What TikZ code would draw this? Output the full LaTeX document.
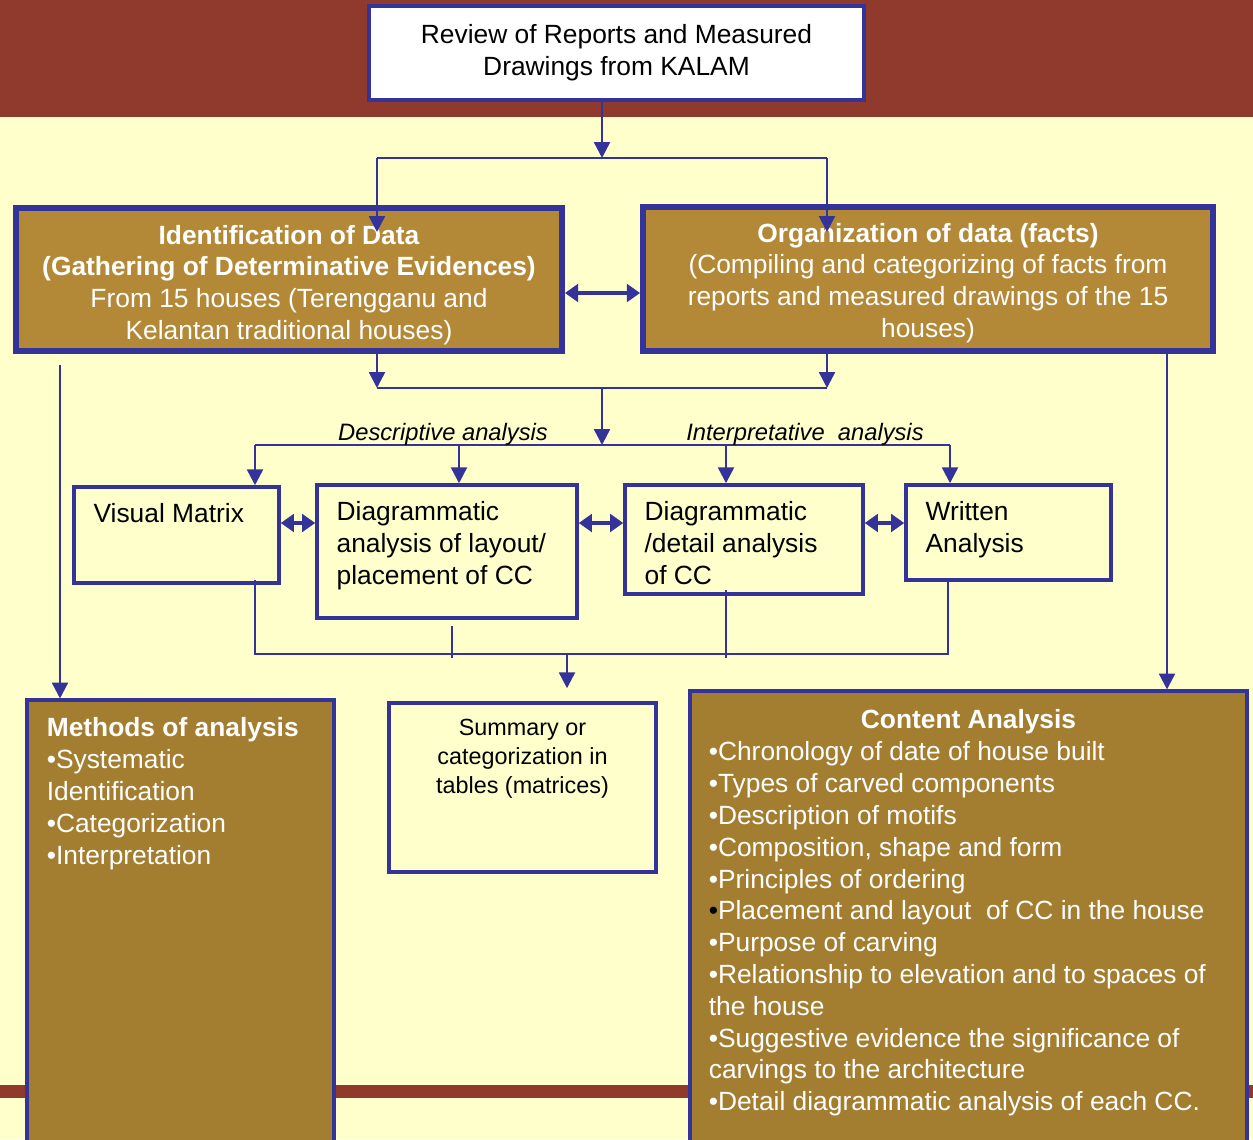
\documentclass[tikz,border=0pt]{standalone}
\usepackage{fontspec}
\setmainfont{Liberation Sans}
\usetikzlibrary{arrows.meta,positioning}

\definecolor{bandred}{RGB}{143,58,45}
\definecolor{cream}{RGB}{255,255,204}
\definecolor{flowblue}{RGB}{51,51,153}
\definecolor{ochre}{RGB}{179,137,55}
\definecolor{darkochre}{RGB}{163,126,48}

\begin{document}
\begin{tikzpicture}[x=0.02cm, y=-0.02cm,
    % Define the style for each kind of box
    box/.style={rectangle, draw=flowblue, inner sep=0pt, font=\fontsize{15}{18.1}\selectfont},
    review box/.style={box, fill=white, line width=1.8pt, align=center},
    main box/.style={box, fill=ochre, line width=3.4pt},
    stage box/.style={box, fill=cream, line width=2pt},
    list box/.style={box, fill=darkochre, line width=1.8pt},
    box text/.style={inner sep=0pt, anchor=north west, align=left, font=\fontsize{15}{18.1}\selectfont},
    main text/.style={box text, anchor=center, align=center, text=white},
    path label/.style={inner sep=0pt, font=\fontsize{13.5}{16}\selectfont\itshape},
    % Define the style for the connecting lines
    link/.style={draw=flowblue, line width=1.4pt},
    flow/.style={link, -{Triangle[length=9pt,width=9pt]}},
    both/.style={link, line width=2pt, {Triangle[length=7.5pt,width=10pt]}-{Triangle[length=7.5pt,width=10pt]}},
    collect/.style={draw=flowblue, line width=0.8pt}
]

% Page, top band and bottom stripe
\useasboundingbox (0,0) rectangle (1253,1139);
\clip (0,0) rectangle (1253,1139);
\fill[cream] (0,0) rectangle (1253,1139);
\fill[bandred] (0,0) rectangle (1253,117);
\fill[bandred] (0,1085) rectangle (1253,1098);

% Source box
\node[review box, minimum width=9.9cm, minimum height=1.88cm] (review) at (616.5,53)
    {Review of Reports and Measured\\Drawings from KALAM};

% Data boxes
\node[main box, minimum width=10.92cm, minimum height=2.86cm] (ident) at (289,279.5) {};
\node[main text] (ident-text) at (289,285)
    {\textbf{Identification of Data}\\\textbf{(Gathering of Determinative Evidences)}\\From 15 houses (Terengganu and\\Kelantan traditional houses)};
\node[main box, minimum width=11.4cm, minimum height=2.88cm] (organ) at (928,279) {};
\node[main text] (organ-text) at (928,283)
    {\textbf{Organization of data (facts)}\\(Compiling and categorizing of facts from\\reports and measured drawings of the 15\\houses)};

% Analysis boxes
\node[stage box, minimum width=4.1cm, minimum height=1.92cm] (vis) at (176.5,535) {};
\node[box text, below right=0.36cm and 0.42cm of vis.north west] (vis-text) {Visual Matrix};
\node[stage box, minimum width=5.2cm, minimum height=2.66cm] (diaga) at (447,551.5) {};
\node[box text, below right=0.36cm and 0.42cm of diaga.north west] (diaga-text)
    {Diagrammatic\\analysis of layout/\\placement of CC};
\node[stage box, minimum width=4.76cm, minimum height=2.18cm] (diagb) at (744,539.5) {};
\node[box text, below right=0.36cm and 0.42cm of diagb.north west] (diagb-text)
    {Diagrammatic\\/detail analysis\\of CC};
\node[stage box, minimum width=4.1cm, minimum height=1.9cm] (writ) at (1008.5,532.5) {};
\node[box text, below right=0.36cm and 0.42cm of writ.north west] (writ-text)
    {Written\\Analysis};

% Result boxes
\node[list box, minimum width=6.14cm, minimum height=9cm] (methods) at (180.5,925) {};
\node[box text, text=white, below right=0.38cm and 0.42cm of methods.north west] (methods-text)
    {\textbf{Methods of analysis}\\•Systematic\\Identification\\•Categorization\\•Interpretation};
\node[stage box, minimum width=5.34cm, minimum height=3.38cm] (summary) at (522.5,787.5) {};
\node[box text, anchor=north, align=center, font=\fontsize{13.3}{16.4}\selectfont, below=0.36cm of summary.north] (summary-text)
    {Summary or\\categorization in\\tables (matrices)};
\node[list box, minimum width=11.14cm, minimum height=9.18cm] (content) at (968.5,920.5) {};
\node[box text, anchor=north, text=white, below=0.4cm of content.north] (content-title)
    {\textbf{Content Analysis}};
\node[box text, text=white, below right=1.04cm and 0.4cm of content.north west] (content-text)
    {•Chronology of date of house built\\
     •Types of carved components\\
     •Description of motifs\\
     •Composition, shape and form\\
     •Principles of ordering\\
     {\color{black}•}Placement and layout\ \ of CC in the house\\
     •Purpose of carving\\
     •Relationship to elevation and to spaces of\\
     the house\\
     •Suggestive evidence the significance of\\
     carvings to the architecture\\
     •Detail diagrammatic analysis of each CC.};

% Junction points of the connectors
\coordinate (top-split) at (602,158);
\coordinate (top-left) at (377,158);
\coordinate (top-right) at (827,158);
\coordinate (ident-in) at (377,232);
\coordinate (organ-in) at (827,232);
\coordinate (pair-row) at (0,293);
\coordinate (join-left) at (377,388);
\coordinate (join-right) at (827,388);
\coordinate (join-mid) at (602,388);
\coordinate (fan-mid) at (602,445);
\coordinate (box-row) at (0,523);
\coordinate (collect-row) at (0,654);
\coordinate (sum-drop) at (567,654);
\coordinate (ident-drop) at (60,365);
\coordinate (organ-drop) at (1167,351);

% Review -> data boxes
\draw[flow] (review.south -| top-split) -- (top-split);
\draw[link] (top-left) -- (top-right);
\draw[flow] (top-left) -- (ident-in);
\draw[flow] (top-right) -- (organ-in);
\draw[both] (ident.east |- pair-row) -- (organ.west |- pair-row);

% Data boxes -> analysis boxes
\draw[flow] (ident.south -| join-left) -- (join-left);
\draw[flow] (organ.south -| join-right) -- (join-right);
\draw[link] (join-left) -- (join-right);
\draw[flow] (join-mid) -- (fan-mid);
\foreach \name / \x in {vis/255, diaga/459, diagb/726, writ/950}
    \coordinate (\name-top) at (\x,445);
\draw[link] (vis-top) -- (writ-top);
\foreach \name in {vis, diaga, diagb, writ}
    \draw[flow] (\name-top) -- (\name-top |- \name.north);
\node[path label] (desc) at (443,434) {Descriptive analysis};
\node[path label] (interp) at (805,434) {Interpretative\ \ analysis};

% Links between the analysis boxes
\draw[both] (vis.east |- box-row) -- (diaga.west |- box-row);
\draw[both] (diaga.east |- box-row) -- (diagb.west |- box-row);
\draw[both] (diagb.east |- box-row) -- (writ.west |- box-row);

% Analysis boxes -> summary
\coordinate (vis-tail) at (255,580);
\coordinate (diaga-tail) at (452,626);
\coordinate (diagb-tail) at (726,590);
\coordinate (writ-tail) at (948,580);
\draw[collect] (vis-tail) -- (vis-tail |- collect-row) -- (writ-tail |- collect-row) -- (writ-tail);
\draw[collect, shorten >=-0.08cm] (diaga-tail) -- (diaga-tail |- collect-row);
\draw[collect, shorten >=-0.08cm] (diagb-tail) -- (diagb-tail |- collect-row);
\draw[flow] (sum-drop) -- ([yshift=0.26cm]sum-drop |- summary.north);

% Side drops to the result boxes
\draw[flow] (ident-drop) -- (ident-drop |- methods.north);
\draw[flow] (organ-drop) -- (organ-drop |- content.north);

\end{tikzpicture}
\end{document}
